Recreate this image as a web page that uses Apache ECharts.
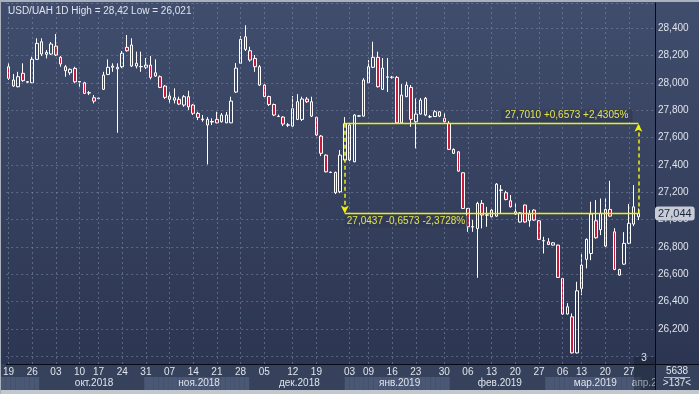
<!DOCTYPE html>
<html><head><meta charset="utf-8">
<script src="https://cdn.jsdelivr.net/npm/echarts@6.0.0/dist/echarts.min.js"></script>
<style>
html,body{margin:0;padding:0;background:#c3c7ce;overflow:hidden}
#c{width:699px;height:394px;background:linear-gradient(to bottom,#404d6c 0px,#2c3652 364px,#36425c 364px,#36425c 390px,#c3c7ce 390px);box-shadow:inset 1px 2px 0 #a9b1bf;}
</style>
</head><body><div id="c"></div>
<script>
// ---- trading days (category axis) ----
const sep2018 = [19,20,21,24,25,26,27,28];
const oct2018 = [1,2,3,4,5,8,9,10,11,12,16,17,18,19,22,23,24,25,26,29,30,31];
const nov2018 = [1,2,5,6,7,8,9,12,13,14,15,16,19,20,21,22,23,26,27,28,29,30];
const dec2018 = [3,4,5,6,7,9,10,11,12,13,14,17,18,19,20,21,24,26,27,28];
const jan2019 = [3,4,7,8,9,10,11,14,15,16,17,18,21,22,23,24,25,27,28,29,30,31];
const feb2019 = [1,4,5,6,7,8,11,12,13,14,15,18,19,20,21,22,25,26,27,28];
const mar2019 = [1,4,5,6,7,11,12,13,14,15,18,19,20,21,22,25,26,27,28,29];
const apr2019 = [1,2,3]; // empty future slots
// ---- x tick labels (weekly) ----
const tickDates = ['2018-09-19','2018-09-26','2018-10-03','2018-10-10','2018-10-17','2018-10-24','2018-10-31',
  '2018-11-07','2018-11-14','2018-11-21','2018-11-28','2018-12-05','2018-12-12','2018-12-19',
  '2019-01-03','2019-01-09','2019-01-16','2019-01-23','2019-01-30','2019-02-06','2019-02-13',
  '2019-02-20','2019-02-27','2019-03-06','2019-03-13','2019-03-20','2019-03-27'];
const monthKeys = ['2018-09','2018-10','2018-11','2018-12','2019-01','2019-02','2019-03','2019-04'];
const monthLabels = ['','окт.2018','ноя.2018','дек.2018','янв.2019','фев.2019','мар.2019','апр.2019'];
// ---- OHLC ----
const opens = [28.117,28.020,27.971,28.069,28.008,28.000,28.171,28.300,28.208,28.210,
28.268,28.186,28.117,28.073,28.105,28.005,28.000,27.925,27.890,27.884,
27.952,28.061,28.113,28.102,28.117,28.259,28.276,28.122,28.117,28.113,
28.129,28.073,28.044,27.976,27.903,27.873,27.879,27.837,27.898,27.837,
27.776,27.730,27.732,27.713,27.732,27.715,27.707,27.707,27.932,28.142,
28.336,28.234,28.178,28.117,27.983,27.899,27.841,27.753,27.749,27.690,
27.683,27.861,27.732,27.881,27.861,27.747,27.610,27.471,27.344,27.345,
27.203,27.435,27.691,27.422,27.756,27.756,28.000,28.113,28.186,27.952,
28.040,28.039,28.039,27.707,27.898,27.966,27.715,27.771,27.886,27.750,
27.753,27.756,27.740,27.703,27.513,27.495,27.342,27.081,26.946,26.935,
27.118,27.032,27.020,27.025,27.214,27.196,27.137,27.057,26.982,27.106,
26.991,27.069,26.991,26.844,26.837,26.813,26.813,26.569,26.309,26.289,
26.025,26.496,26.709,26.752,26.991,26.926,27.074,27.074,26.910,26.635,
26.674,26.826,26.967,27.020];
const closes = [28.032,27.976,28.044,28.015,28.004,28.171,28.288,28.210,28.222,28.283,
28.203,28.137,28.088,28.098,28.007,28.009,27.922,27.927,27.866,27.888,
28.056,28.113,28.122,28.113,28.215,28.234,28.122,28.142,28.119,28.129,
28.039,28.049,27.966,27.893,27.879,27.890,27.844,27.898,27.824,27.776,
27.747,27.735,27.691,27.717,27.707,27.764,27.764,27.866,28.107,28.317,
28.244,28.166,28.117,27.983,27.899,27.841,27.764,27.755,27.698,27.692,
27.811,27.732,27.881,27.861,27.756,27.618,27.484,27.349,27.346,27.196,
27.471,27.701,27.435,27.764,27.758,28.020,28.117,28.186,27.971,28.107,
28.043,28.041,27.707,27.910,27.983,27.732,27.771,27.873,27.764,27.752,
27.788,27.788,27.715,27.513,27.484,27.354,27.081,26.947,26.948,27.118,
27.033,27.034,27.069,27.259,27.216,27.147,27.093,27.040,27.049,26.982,
27.040,26.996,26.855,26.846,26.818,26.830,26.577,26.309,26.362,26.025,
26.479,26.667,26.855,27.040,26.867,27.045,26.806,27.025,26.635,26.594,
26.826,26.972,27.093,27.0437];
const lows = [28.020,27.969,27.966,28.007,28.000,27.998,28.166,28.195,28.178,28.203,
28.195,28.117,28.044,28.056,27.996,27.971,27.917,27.910,27.849,27.880,
27.947,28.056,28.080,27.634,28.107,28.227,28.115,28.105,28.080,28.100,
28.025,28.044,27.961,27.881,27.849,27.849,27.837,27.824,27.800,27.764,
27.727,27.715,27.403,27.691,27.703,27.709,27.705,27.705,27.925,28.137,
28.232,28.154,28.080,27.976,27.895,27.830,27.756,27.749,27.683,27.676,
27.680,27.727,27.720,27.852,27.749,27.610,27.464,27.345,27.340,27.186,
27.193,27.427,27.427,27.420,27.752,27.753,27.998,28.107,27.965,27.947,
27.932,28.030,27.705,27.705,27.895,27.678,27.520,27.768,27.756,27.742,
27.749,27.749,27.703,27.510,27.479,27.350,27.078,26.910,26.910,26.574,
26.935,26.947,27.014,27.020,27.045,27.140,27.088,27.033,26.978,26.976,
26.947,26.990,26.850,26.752,26.813,26.810,26.574,26.305,26.305,26.021,
26.021,26.447,26.643,26.703,26.860,26.886,26.799,27.020,26.630,26.590,
26.670,26.820,26.952,26.996];
const highs = [28.144,28.064,28.080,28.142,28.012,28.190,28.325,28.325,28.239,28.298,
28.356,28.195,28.129,28.105,28.117,28.012,28.007,27.939,27.910,27.895,
28.080,28.171,28.142,28.142,28.232,28.349,28.325,28.227,28.227,28.181,
28.195,28.171,28.053,27.983,27.934,27.959,27.898,27.910,27.941,27.844,
27.788,27.764,27.749,27.740,27.788,27.778,27.786,27.898,28.144,28.341,
28.420,28.263,28.203,28.129,27.990,27.905,27.848,27.767,27.756,27.705,
27.903,27.917,27.898,27.896,27.898,27.752,27.618,27.476,27.350,27.350,
27.508,27.749,27.705,27.771,27.762,28.034,28.166,28.300,28.227,28.181,
28.181,28.050,28.049,27.990,28.007,27.983,27.886,27.888,27.896,27.764,
27.800,27.793,27.778,27.720,27.520,27.500,27.345,27.085,26.996,27.130,
27.142,27.093,27.075,27.267,27.252,27.210,27.179,27.118,27.055,27.110,
27.069,27.075,26.995,26.874,26.864,26.835,26.817,26.573,26.389,26.314,
26.545,26.747,26.862,27.130,27.142,27.154,27.154,27.283,26.937,26.640,
26.908,27.113,27.252,27.081];
// ---- annotation anchor ----
const annStartDate = '2018-12-28';

// ---- build ----
const pad = d => (d < 10 ? '0' : '') + d;
const mk = (ym, arr) => arr.map(d => ym + '-' + pad(d));
const dates = [].concat(mk('2018-09', sep2018), mk('2018-10', oct2018), mk('2018-11', nov2018),
  mk('2018-12', dec2018), mk('2019-01', jan2019), mk('2019-02', feb2019), mk('2019-03', mar2019), mk('2019-04', apr2019));
const candles = opens.map((o, i) => [o, closes[i], lows[i], highs[i]]);
const lastDate = dates[candles.length - 1];
const annStartIdx = dates.indexOf(annStartDate);
const annTop = closes[annStartIdx];
const annBottom = closes[closes.length - 1];
const fmtNum = (v, d) => v.toFixed(d).replace('.', ',');
const diff = annTop - annBottom;
const topText = fmtNum(annTop, 4) + ' +' + fmtNum(diff, 4) + ' +' + fmtNum(diff / annBottom * 100, 4) + '%';
const botText = fmtNum(annBottom, 4) + ' -' + fmtNum(diff, 4) + ' -' + fmtNum(diff / annTop * 100, 4) + '%';
const hi = Math.max.apply(null, highs), lo = Math.min.apply(null, lows);
const titleText = 'USD/UAH 1D High = ' + String(hi).replace('.', ',') + ' Low = ' + String(lo).replace('.', ',');
const tickSet = new Set(tickDates);

// month bands
const monthOf = dates.map(d => monthKeys.indexOf(d.slice(0, 7)));
const labelAt = {};
monthKeys.forEach((k, m) => {
  const idx = []; monthOf.forEach((mm, i) => { if (mm === m) idx.push(i); });
  if (!idx.length) return;
  const s = idx[0], e = idx[idx.length - 1];
  const pos = (m === monthKeys.length - 1) ? e : Math.ceil((s + e) / 2);
  labelAt[pos] = monthLabels[m];
});

const font = 'Liberation Sans, Arial, sans-serif';
const grey = '#dfe4ec';
const yellow = '#f0f00c';
const gridColor = 'rgba(128,142,172,0.55)';

const chart = echarts.init(document.getElementById('c'));
chart.setOption({
  animation: false,
  textStyle: { fontFamily: font },
  title: { text: titleText, left: 3, top: 1, textStyle: { color: grey, fontSize: 10, fontWeight: 'normal', fontFamily: font } },
  grid: [
    { left: 1, right: 44, top: 3, bottom: 30 },
    { left: 1, right: 44, top: 377, height: 13 }
  ],
  xAxis: [
    { type: 'category', data: dates, boundaryGap: true,
      axisLine: { show: true, lineStyle: { color: '#070a12', width: 1 } },
      axisTick: { show: false }, splitLine: { show: false },
      axisLabel: { interval: (i, v) => tickSet.has(v), formatter: v => v.slice(8), color: grey, fontSize: 10, margin: 3, fontFamily: font } },
    { type: 'category', gridIndex: 1, data: dates, show: false, boundaryGap: true }
  ],
  yAxis: [
    { type: 'value', position: 'right', min: 25.944, max: 28.583, splitNumber: 13,
      axisLine: { show: true, lineStyle: { color: '#070a12', width: 1 } },
      axisTick: { show: false },
      axisLabel: { color: grey, fontSize: 10, margin: 3, fontFamily: font, showMinLabel: false, showMaxLabel: false,
        formatter: v => { const k = Math.round(v / 0.2); if (Math.abs(v - k * 0.2) > 1e-6 || v < 26.1) return ''; return fmtNum(v, 3); } },
      splitLine: { show: true, lineStyle: { color: gridColor, type: [2, 3], width: 1 } },
      axisPointer: { show: true, type: 'line', snap: false, triggerTooltip: false, status: 'show', value: annBottom,
        lineStyle: { color: 'rgba(0,0,0,0)', width: 0 },
        handle: { show: false },
        label: { show: true, formatter: p => fmtNum(p.value, 3), backgroundColor: '#c8ccd4', color: '#1b2540', fontSize: 11, fontFamily: font, padding: [2, 3, 1, 3], margin: 0 } } },
    { type: 'value', gridIndex: 1, min: 0, max: 1, show: false }
  ],
  series: [
    { type: 'line', data: [], silent: true, z: 1,
      markLine: { silent: true, symbol: ['none', 'none'], label: { show: false }, animation: false,
        lineStyle: { color: gridColor, type: [2, 3], width: 1 },
        emphasis: { disabled: true },
        data: tickDates.map(d => ({ xAxis: d })) } },
    { type: 'candlestick', name: 'USD/UAH', data: candles, barWidth: 3, z: 3,
      itemStyle: { color: 'rgba(0,0,0,0)', color0: '#c81a3c', borderColor: '#ffffff', borderColor0: '#ffffff', borderWidth: 1 } },
    // annotation lines
    { type: 'line', data: [], silent: true, z: 5,
      markLine: { silent: true, symbol: ['none', 'none'], animation: false,
        lineStyle: { color: yellow, width: 1.5, type: [4, 3] },
        emphasis: { disabled: true },
        label: { show: false },
        data: [
          [ { coord: [annStartDate, annTop] }, { coord: [annStartDate, annBottom], symbol: 'arrow', symbolSize: [6, 8] } ],
          [ { coord: [lastDate, annBottom] }, { coord: [lastDate, annTop], symbol: 'arrow', symbolSize: [6, 8] } ]
        ] } },
    // horizontal levels with texts
    { type: 'line', data: [], silent: true, z: 6,
      markLine: { silent: true, symbol: ['none', 'none'], animation: false,
        lineStyle: { color: yellow, width: 1.3, type: [400, 0] },
        emphasis: { disabled: true },
        data: [
          [ { coord: [annStartDate, annTop],
              label: { show: true, position: 'insideEndTop', formatter: topText, color: '#e4e44e', fontSize: 10, fontFamily: font,
                       backgroundColor: 'rgba(48,58,82,0.75)', padding: [1, 4, 1, 4], distance: [6, 2] } },
            { coord: [lastDate, annTop] } ],
          [ { coord: [annStartDate, annBottom],
              label: { show: true, position: 'insideStartBottom', formatter: botText, color: '#e4e44e', fontSize: 10, fontFamily: font,
                       backgroundColor: 'rgba(48,58,82,0.75)', padding: [1, 2, 1, 2], distance: [0, 2] } },
            { coord: [lastDate, annBottom] } ]
        ] } },
    { type: 'bar', xAxisIndex: 1, yAxisIndex: 1, data: dates.map(() => 1), barCategoryGap: '0%', silent: true,
      itemStyle: { color: p => (monthOf[p.dataIndex] % 2 === 0 ? '#4a5775' : 'rgba(0,0,0,0)') },
      label: { show: true, position: 'inside', formatter: p => labelAt[p.dataIndex] || '', color: grey, fontSize: 10, fontFamily: font } }
  ],
  graphic: [
    { type: 'rect', z: 99, silent: true, shape: { x: 634, y: 357, width: 21, height: 33 }, style: { fill: 'rgba(18,26,44,0.35)' } },
    { type: 'text', z: 100, silent: true, style: { text: '3', x: 644, y: 358, fill: grey, font: '10px Liberation Sans', align: 'center', verticalAlign: 'middle', textAlign: 'center', textVerticalAlign: 'middle' } },
    { type: 'rect', z: 100, silent: true, shape: { x: 656, y: 365, width: 43, height: 25 }, style: { fill: '#36425c' } },
    { type: 'line', z: 101, silent: true, shape: { x1: 655.5, y1: 364, x2: 655.5, y2: 390 }, style: { stroke: '#070a12', lineWidth: 1 } },
    { type: 'line', z: 101, silent: true, shape: { x1: 655, y1: 364.5, x2: 699, y2: 364.5 }, style: { stroke: '#070a12', lineWidth: 1 } },
    { type: 'text', z: 102, silent: true, style: { text: '5638', x: 677, y: 371, fill: grey, font: '10px Liberation Sans', align: 'center', verticalAlign: 'middle', textAlign: 'center', textVerticalAlign: 'middle' } },
    { type: 'line', z: 102, silent: true, shape: { x1: 664, y1: 377.5, x2: 690, y2: 377.5 }, style: { stroke: '#aab3c4', lineWidth: 1 } },
    { type: 'text', z: 102, silent: true, style: { text: '>137<', x: 677, y: 383.5, fill: grey, font: '10px Liberation Sans', align: 'center', verticalAlign: 'middle', textAlign: 'center', textVerticalAlign: 'middle' } }
  ]
});
</script></body></html>
